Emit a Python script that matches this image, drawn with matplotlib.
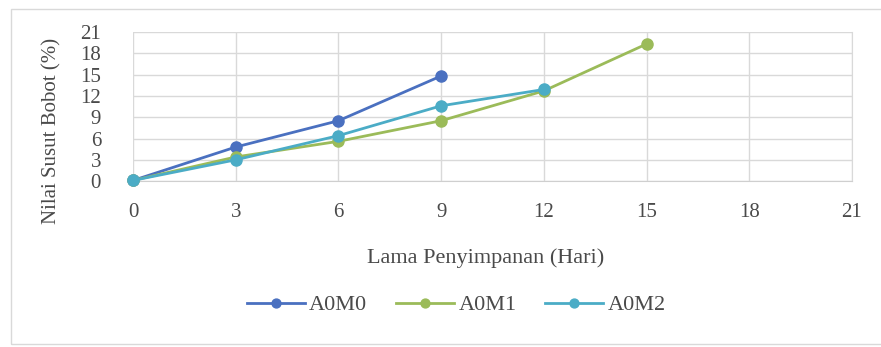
import matplotlib
matplotlib.use("Agg")
import matplotlib.pyplot as plt
from matplotlib.patches import Rectangle

# Storage duration (days) and weight loss (%) per treatment
days_m0 = [0, 3, 6, 9]
loss_m0 = [0.1, 4.8, 8.5, 14.8]

days_m1 = [0, 3, 6, 9, 12, 15]
loss_m1 = [0.1, 3.4, 5.6, 8.5, 12.7, 19.3]

days_m2 = [0, 3, 6, 9, 12]
loss_m2 = [0.1, 3.0, 6.4, 10.6, 12.9]

series_names = ["A0M0", "A0M1", "A0M2"]
series_colors = ["#4a70c0", "#9bbb59", "#4bacc6"]
ticks = [0, 3, 6, 9, 12, 15, 18, 21]

plt.rcParams["font.family"] = ["Liberation Serif", "DejaVu Serif"]
text_color = "#4a4a4a"

fig = plt.figure(figsize=(8.81, 3.47), dpi=100)
ax = fig.add_axes([0.151, 0.478, 0.816, 0.430])

for days, loss, name, color in zip(
    [days_m0, days_m1, days_m2],
    [loss_m0, loss_m1, loss_m2],
    series_names, series_colors,
):
    ax.plot(days, loss, color=color, lw=2, marker="o", ms=8,
            label=name, clip_on=False, zorder=3)

ax.set_xlim(0, 21)
ax.set_ylim(0, 21)
ax.set_xticks(ticks)
ax.set_yticks(ticks)
ax.grid(True, color="#d9d9d9", lw=1)
ax.set_axisbelow(True)
for side in ["top", "left"]:
    ax.spines[side].set_visible(False)
ax.spines["right"].set_color("#d9d9d9")
ax.spines["bottom"].set_color("#cfcfcf")
ax.tick_params(axis="both", length=0, labelsize=15, colors=text_color)
ax.tick_params(axis="x", pad=16)
ax.tick_params(axis="y", pad=23)

ax.set_xlabel("Lama Penyimpanan (Hari)", fontsize=16, color=text_color)
ax.set_ylabel("Nilai Susut Bobot (%)", fontsize=15, color=text_color)
ax.xaxis.set_label_coords(0.49, -0.45)
ax.yaxis.set_label_coords(-0.099, 0.335)

fig.legend(*ax.get_legend_handles_labels(), loc="center",
           bbox_to_anchor=(0.518, 0.121), ncol=3, frameon=False,
           fontsize=16, handlelength=2.6, columnspacing=1.3,
           handletextpad=0.2, markerscale=0.8, labelcolor=text_color)

# Chart border
fig.patches.append(Rectangle((0.0125, 0.009), 1.2, 0.965, transform=fig.transFigure,
                             fill=False, edgecolor="#d9d9d9", lw=1))

fig.savefig("out.png", dpi=100, facecolor="white")
